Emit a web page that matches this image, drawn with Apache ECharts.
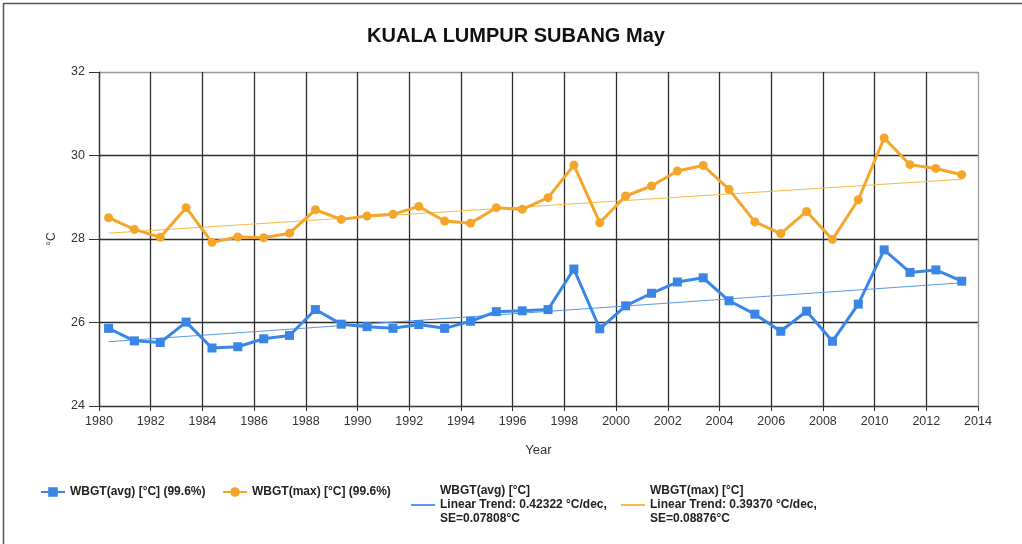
<!DOCTYPE html>
<html>
<head>
<meta charset="utf-8">
<title>KUALA LUMPUR SUBANG May</title>
<script src="https://cdn.jsdelivr.net/npm/echarts@6/dist/echarts.min.js"></script>
<style>
  html, body { margin: 0; padding: 0; background: #fff; }
  #chart { width: 1022px; height: 544px; }
</style>
</head>
<body>
<div id="chart"></div>
<script>
"use strict";
/**数据**/
var years = [1980, 1981, 1982, 1983, 1984, 1985, 1986, 1987, 1988, 1989,
  1990, 1991, 1992, 1993, 1994, 1995, 1996, 1997, 1998, 1999,
  2000, 2001, 2002, 2003, 2004, 2005, 2006, 2007, 2008, 2009,
  2010, 2011, 2012, 2013];
var wbgtAvg = [25.86, 25.56, 25.52, 26.01, 25.39, 25.42, 25.61, 25.69, 26.31, 25.96,
  25.90, 25.86, 25.95, 25.86, 26.03, 26.26, 26.28, 26.31, 27.28, 25.85,
  26.40, 26.70, 26.97, 27.07, 26.52, 26.20, 25.79, 26.27, 25.55, 26.44,
  27.74, 27.20, 27.26, 26.99];
var wbgtMax = [28.51, 28.23, 28.04, 28.75, 27.92, 28.05, 28.03, 28.14, 28.70, 28.47,
  28.55, 28.59, 28.78, 28.43, 28.38, 28.75, 28.71, 28.99, 29.77, 28.39,
  29.03, 29.27, 29.63, 29.76, 29.19, 28.41, 28.13, 28.66, 27.99, 28.94,
  30.42, 29.78, 29.69, 29.54];
var trendYears = [1980, 2013];
var trendAvg = [25.54, 26.95];
var trendMax = [28.14, 29.43];
var midMay = 0.37; // 数据点在五月中旬

var names = [
  "WBGT(avg) [°C] (99.6%)",
  "WBGT(max) [°C] (99.6%)",
  "WBGT(avg) [°C]\nLinear Trend: 0.42322 °C/dec,\nSE=0.07808°C",
  "WBGT(max) [°C]\nLinear Trend: 0.39370 °C/dec,\nSE=0.08876°C"
];

function pairs(xs, ys) {
  return xs.map(function (x, i) { return [x + midMay, ys[i]]; });
}

var font = "Liberation Sans";
var blue = "#3a86e6", orange = "#f5a62a";
var gridDark = "#2e2e2e", edgeGray = "#9a9a9a";

// 网格线颜色：最后一条（外框）用浅灰
function lineColors(n) {
  var c = [];
  for (var i = 0; i < n; i++) c.push(i === n - 1 ? edgeGray : gridDark);
  return c;
}

function legendAt(name, left, top, plain) {
  var lg = {
    data: [name], left: left, top: top, orient: "horizontal", padding: 0,
    itemWidth: 24, itemHeight: plain ? 2 : 12, itemGap: 6,
    textStyle: {fontFamily: font, fontSize: 12, fontWeight: "bold", color: "#222", lineHeight: 14}
  };
  if (plain) lg.icon = "rect";
  return lg;
}

var chart = echarts.init(document.getElementById("chart"));
chart.setOption({
  animation: false,
  backgroundColor: "#fff",
  title: {
    text: "KUALA LUMPUR SUBANG May", left: 511, top: 21, textAlign: "center",
    textStyle: {fontFamily: font, fontSize: 20, fontWeight: "bold", color: "#111"}
  },
  graphic: [{
    type: "rect", shape: {x: 3.5, y: 3.5, width: 1030, height: 560},
    style: {fill: null, stroke: "#555", lineWidth: 1.5}, silent: true
  }],
  grid: {left: 99, top: 72, width: 879, height: 334},
  legend: [
    legendAt(names[0], 40, 485),
    legendAt(names[1], 222, 485),
    legendAt(names[2], 411, 484, true),
    legendAt(names[3], 621, 484, true)
  ],
  xAxis: {
    type: "value", min: 1980, max: 2014, interval: 2,
    name: "Year", nameLocation: "middle", nameGap: 38,
    nameTextStyle: {fontFamily: font, fontSize: 13, color: "#333"},
    axisLine: {lineStyle: {color: "#333", width: 1.2}},
    axisTick: {show: true, length: 5, lineStyle: {color: "#333"}},
    axisLabel: {fontFamily: font, fontSize: 12.5, color: "#333", margin: 9,
      formatter: function (v) { return String(v); }},
    splitLine: {show: true, lineStyle: {color: lineColors(18), width: 1.3}}
  },
  yAxis: {
    type: "value", min: 24, max: 32, interval: 2,
    name: "°C", nameLocation: "middle", nameGap: 41, nameRotate: 90,
    nameTextStyle: {fontFamily: font, fontSize: 12, color: "#333"},
    axisLine: {show: true, lineStyle: {color: "#333", width: 1.2}},
    axisTick: {show: true, length: 10, lineStyle: {color: "#333"}},
    axisLabel: {fontFamily: font, fontSize: 12.5, color: "#333", margin: 14},
    splitLine: {show: true, lineStyle: {color: lineColors(5), width: 1.3}}
  },
  series: [
    {
      name: names[0], type: "line", data: pairs(years, wbgtAvg),
      symbol: "rect", symbolSize: 9, z: 4,
      itemStyle: {color: blue}, lineStyle: {color: blue, width: 3}
    },
    {
      name: names[1], type: "line", data: pairs(years, wbgtMax),
      symbol: "circle", symbolSize: 9, z: 4,
      itemStyle: {color: orange}, lineStyle: {color: orange, width: 3}
    },
    {
      name: names[2], type: "line", data: pairs(trendYears, trendAvg),
      symbol: "none", z: 3,
      itemStyle: {color: "#5b9ae8"}, lineStyle: {color: "#5b9ae8", width: 1}
    },
    {
      name: names[3], type: "line", data: pairs(trendYears, trendMax),
      symbol: "none", z: 3,
      itemStyle: {color: "#f6bb45"}, lineStyle: {color: "#f6bb45", width: 1}
    }
  ]
});
</script>
</body>
</html>
